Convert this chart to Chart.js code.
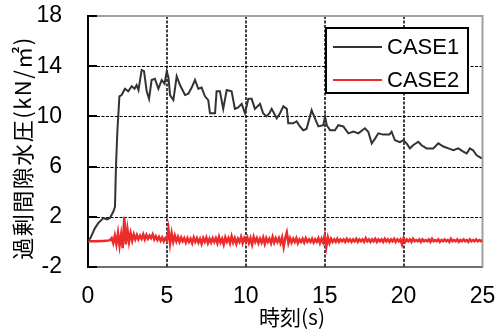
<!DOCTYPE html>
<html><head><meta charset="utf-8">
<script src="https://cdn.jsdelivr.net/npm/chart.js@4.4.1/dist/chart.umd.min.js"></script>
<style>html,body{margin:0;padding:0;background:#fff;}canvas{display:block;}</style>
</head><body>
<canvas id="c" width="497" height="336"></canvas>
<script>
const xTicks = [0, 5, 10, 15, 20, 25];
const yTicks = [-2, 2, 6, 10, 14, 18];
const seriesNames = ['CASE1', 'CASE2'];
const axisTitleY = '過剰間隙水圧(kN/㎡)';
const axisTitleX = '時刻(s)';

const case1Time = [0, 0.15, 0.44, 0.65, 0.97, 1.2, 1.39, 1.6, 1.71, 1.77, 1.86, 1.99, 2.13, 2.34, 2.55, 2.77, 2.95, 3.08, 3.2, 3.4,
  3.55, 3.72, 3.87, 4.03, 4.24, 4.46, 4.67, 4.85, 4.99, 5.1, 5.2, 5.41, 5.62, 5.83, 6.15, 6.36, 6.57, 6.78, 6.99, 7.2,
  7.41, 7.62, 7.73, 8.05, 8.15, 8.36, 8.57, 8.79, 9.1, 9.31, 9.5, 9.74, 9.95, 10.16, 10.37, 10.58, 10.9, 11.1, 11.3, 11.5,
  11.64, 11.96, 12.17, 12.38, 12.6, 12.69, 13.0, 13.22, 13.43, 13.64, 13.85, 14.17, 14.38, 14.6, 14.91, 15.02, 15.13, 15.34, 15.65, 15.86,
  16.18, 16.5, 16.82, 17.13, 17.55, 17.76, 17.98, 18.2, 18.4, 18.7, 19.1, 19.24, 19.45, 19.77, 19.98, 20.19, 20.4, 20.6, 20.93, 21.14,
  21.46, 21.88, 22.2, 22.52, 22.84, 23.15, 23.47, 23.78, 24.0, 24.2, 24.4, 24.63, 24.95];
const case1Value = [0.1, 0.3, 1.1, 1.5, 1.9, 1.8, 1.9, 2.4, 2.8, 5.9, 8.8, 11.6, 11.7, 12.2, 12.0, 12.4, 12.2, 12.5, 12.1, 13.7,
  13.6, 12.0, 11.4, 12.9, 13.0, 12.2, 12.9, 12.6, 13.6, 13.1, 11.7, 11.3, 13.2, 12.5, 11.7, 11.8, 12.3, 12.9, 12.2, 12.3,
  11.6, 11.3, 10.25, 10.25, 12.0, 12.0, 10.6, 12.1, 12.0, 10.6, 10.7, 11.0, 10.25, 11.4, 11.4, 10.6, 11.0, 10.25, 10.0, 10.25,
  10.6, 9.85, 10.25, 10.8, 10.6, 9.45, 9.45, 9.6, 9.2, 8.9, 9.0, 10.5, 9.85, 9.2, 9.3, 10.0, 9.3, 8.9, 8.9, 9.3,
  9.2, 8.65, 8.8, 8.65, 9.05, 8.78, 7.85, 8.25, 8.65, 8.55, 8.55, 8.78, 8.1, 7.95, 8.1, 7.85, 7.45, 7.7, 7.98, 7.7,
  7.45, 7.45, 7.85, 7.6, 7.45, 7.3, 7.45, 7.2, 7.05, 7.45, 7.3, 6.9, 6.65];

const case2Step = 0.1;
const case2Value = [
  0.05, 0.05, 0.06, 0.06, 0.05, 0.06, 0.07, 0.06, 0.07, 0.08, 0.07, 0.09, 0.1, 0.12, 0.15,
  0.3, -0.1, 0.5, -0.2, 0.7, -0.3, 0.6, -0.5, 2.0, -0.2, 1.0,
  0.0, 0.7, 0.1, 0.6, 0.2, 0.55, 0.2, 0.5, 0.25, 0.6,
  0.2, 0.55, 0.25, 0.5, 0.3, 0.6, 0.2, 0.45, 0.15, 0.4, 0.1, 0.35, 0.05, 0.3, 0.1,
  1.0, -0.15, 0.7, 0.0, 0.5, 0.05, 0.4, 0.0, 0.35, 0.05,
  0.3, -0.05, 0.3, 0.0, 0.25, -0.1, 0.35, 0.0, 0.3, -0.05, 0.25, -0.15, 0.3, 0.0, 0.35, -0.1, 0.25, -0.05, 0.3, 0.0,
  0.3, -0.1, 0.4, -0.05, 0.25, -0.2, 0.35, 0.0, 0.3, -0.1, 0.45, -0.05, 0.3, -0.15, 0.25, 0.0, 0.4, -0.1, 0.3, 0.0,
  0.35, -0.1, 0.3, -0.2, 0.4, 0.0, 0.3, -0.1, 0.25, -0.05, 0.35, -0.15, 0.3, 0.0, 0.25, -0.1, 0.4, -0.05, 0.3, 0.0,
  0.3, -0.1, 0.35, -0.4, 0.3, 0.75, -0.1, 0.3, -0.05, 0.25, 0.0, 0.3, -0.1, 0.2, 0.0, 0.25, -0.05, 0.3, 0.0, 0.2,
  0.0, 0.25, -0.05, 0.2, 0.0, 0.3, -0.1, 0.25, -0.05, 0.5,
  -0.4, 0.35, -0.1, 0.25, 0.0, 0.2, 0.0, 0.25, 0.0, 0.2,
  0.05, 0.2, 0.0, 0.25, 0.05, 0.2, 0.0, 0.2, 0.05, 0.25, 0.0, 0.2, 0.05, 0.2, 0.0, 0.3, 0.05, 0.2, 0.0, 0.2,
  0.05, 0.25, 0.0, 0.2, 0.05, 0.2, 0.0, 0.25, 0.05, 0.2, 0.0, 0.2, 0.05, 0.25, 0.0, 0.2, 0.05, 0.2, -0.2, 0.3,
  0.0, 0.2, 0.05, 0.2, 0.0, 0.25, 0.05, 0.15, 0.05, 0.2, 0.0, 0.2, 0.05, 0.15, 0.05, 0.2, 0.0, 0.25, 0.05, 0.15,
  0.05, 0.2, 0.0, 0.15, 0.05, 0.2, 0.05, 0.15, 0.0, 0.25, 0.05, 0.15, 0.05, 0.2, 0.0, 0.15, 0.05, 0.2, 0.05, 0.15,
  0.0, 0.2, 0.05, 0.15, 0.05, 0.2, 0.05, 0.15, 0.05, 0.15];

const case1Data = case1Time.map((t, i) => ({ x: t, y: case1Value[i] }));
const case2Data = case2Value.map((v, i) => ({ x: +(i * case2Step).toFixed(2), y: v }));

const tickFont = { family: '"Liberation Sans Narrow", "Liberation Sans", Arial, sans-serif', size: 23 };
const cjkFamily = '"Noto Sans CJK JP", "Noto Sans", sans-serif';

const framePlugin = {
  id: 'frame',
  beforeDatasetsDraw(chart) {
    const { ctx, chartArea: a, scales } = chart;
    ctx.save();
    ctx.strokeStyle = '#000';
    ctx.setLineDash([3, 1.5]);
    ctx.lineWidth = 1.5;
    xTicks.forEach(v => {
      if (v === scales.x.min || v === scales.x.max) return;
      const x = Math.round(scales.x.getPixelForValue(v));
      ctx.beginPath(); ctx.moveTo(x, a.top); ctx.lineTo(x, a.bottom); ctx.stroke();
    });
    ctx.lineWidth = 1.2;
    yTicks.forEach(v => {
      if (v === scales.y.min || v === scales.y.max) return;
      const y = Math.round(scales.y.getPixelForValue(v)) + 0.5;
      ctx.beginPath(); ctx.moveTo(a.left, y); ctx.lineTo(a.right, y); ctx.stroke();
    });
    ctx.setLineDash([]);
    ctx.lineWidth = 2;
    ctx.strokeStyle = '#a0a0a0';
    ctx.beginPath();
    ctx.moveTo(a.left, a.top); ctx.lineTo(a.right, a.top); ctx.lineTo(a.right, a.bottom);
    ctx.stroke();
    ctx.restore();
  },
  afterDatasetsDraw(chart) {
    const { ctx, chartArea: a, scales } = chart;
    ctx.save();
    ctx.lineWidth = 2;
    ctx.strokeStyle = '#000';
    yTicks.forEach(v => {
      const y = Math.round(scales.y.getPixelForValue(v));
      ctx.beginPath(); ctx.moveTo(a.left, y); ctx.lineTo(a.left + 9, y); ctx.stroke();
    });
    ctx.restore();
  },
  afterDraw(chart) {
    const { ctx } = chart;
    const bx = 326, by = 28, bw = 142, bh = 65;
    ctx.save();
    ctx.fillStyle = '#fff';
    ctx.fillRect(bx, by, bw, bh);
    ctx.lineWidth = 2;
    ctx.strokeStyle = '#000';
    ctx.strokeRect(bx, by, bw, bh);
    chart.data.datasets.forEach((ds, i) => {
      const y = by + 19 + i * 33;
      ctx.strokeStyle = ds.borderColor;
      ctx.lineWidth = 2;
      ctx.beginPath(); ctx.moveTo(bx + 7, y); ctx.lineTo(bx + 56, y); ctx.stroke();
      ctx.fillStyle = '#000';
      ctx.font = '22px "Liberation Sans", Arial, sans-serif';
      ctx.textBaseline = 'middle';
      ctx.textAlign = 'left';
      ctx.fillText(ds.label, bx + 61, y + 1);
    });
    ctx.fillStyle = '#000';
    ctx.textAlign = 'center';
    ctx.textBaseline = 'middle';
    ctx.font = '22px ' + cjkFamily;
    try { ctx.letterSpacing = '1.5px'; } catch (e) {}
    ctx.save();
    ctx.translate(23, 148);
    ctx.rotate(-Math.PI / 2);
    ctx.fillText(axisTitleY, 0, 0);
    ctx.restore();
    try { ctx.letterSpacing = '0px'; } catch (e) {}
    ctx.font = '21px ' + cjkFamily;
    ctx.fillText(axisTitleX, 292, 317);
    ctx.restore();
  }
};

new Chart(document.getElementById('c'), {
  type: 'line',
  data: {
    datasets: [
      { label: seriesNames[0], data: case1Data, borderColor: '#333333', borderWidth: 2, pointRadius: 0, tension: 0, fill: false, order: 1 },
      { label: seriesNames[1], data: case2Data, borderColor: '#ee2b2b', borderWidth: 2.5, pointRadius: 0, tension: 0, fill: false, order: 2 }
    ]
  },
  options: {
    responsive: false,
    animation: false,
    events: [],
    layout: { padding: { left: 0, right: 14.5, top: 16, bottom: 0 } },
    plugins: { legend: { display: false }, tooltip: { enabled: false } },
    scales: {
      x: {
        type: 'linear', min: 0, max: 25,
        afterBuildTicks: s => { s.ticks = xTicks.map(v => ({ value: v })); },
        afterFit: s => { s.height = 69; },
        ticks: { font: tickFont, color: '#000', padding: 0, maxRotation: 0 },
        grid: { display: true, drawOnChartArea: false, drawTicks: true, tickLength: 16, tickColor: 'rgba(0,0,0,0)' },
        border: { display: true, color: '#6e6e6e', width: 2 },
        title: { display: false, text: axisTitleX }
      },
      y: {
        type: 'linear', min: -2, max: 18,
        afterBuildTicks: s => { s.ticks = yTicks.map(v => ({ value: v })); },
        afterFit: s => { s.width = 88; },
        ticks: { font: tickFont, color: '#000', padding: 0 },
        grid: { display: true, drawOnChartArea: false, drawTicks: true, tickLength: 26, tickColor: 'rgba(0,0,0,0)' },
        border: { display: true, color: '#000', width: 2 },
        title: { display: false, text: axisTitleY }
      }
    }
  },
  plugins: [framePlugin]
});
</script>
</body></html>
